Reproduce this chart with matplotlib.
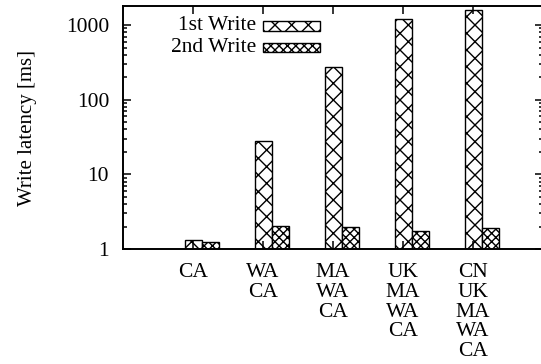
import matplotlib.pyplot as plt
from matplotlib.patches import Rectangle

sites = ["CA", "WA\nCA", "MA\nWA\nCA", "UK\nMA\nWA\nCA", "CN\nUK\nMA\nWA\nCA"]
first_write = [1.32, 28.2, 275, 1200, 1570]
second_write = [1.24, 2.03, 1.95, 1.73, 1.89]

plt.rcParams['font.family'] = ['Liberation Serif', 'DejaVu Serif']
plt.rcParams['hatch.linewidth'] = 1.0

fs = 15.5
fig = plt.figure(figsize=(5.41, 3.64), dpi=100)
fig.set_facecolor('white')
ax = fig.add_axes([0.2274, 0.3159, 0.7763, 0.6676])

w = 0.243
x = list(range(len(sites)))
ax.bar(x, first_write, width=w, facecolor='white', edgecolor='black',
       hatch='xx', linewidth=1.0, log=True)
ax.bar([i + w for i in x], second_write, width=w, facecolor='white', edgecolor='black',
       hatch='xxxx', linewidth=1.0, log=True)

ax.set_yscale('log')
ax.set_ylim(1, 1800)
ax.set_xlim(-1, 5)
ax.set_yticks([1, 10, 100, 1000])
ax.set_yticklabels(['1', '10', '100', '1000'])
ax.set_xticks(x)
ax.set_xticklabels(sites, linespacing=1.06, va='top')

for s in ax.spines.values():
    s.set_linewidth(1.4)
ax.tick_params(which='both', direction='in', top=True, right=True, labelsize=fs, width=1.1)
ax.tick_params(which='major', length=6)
ax.tick_params(which='minor', length=3)
ax.tick_params(axis='y', pad=10)
ax.tick_params(axis='x', pad=10)
ax.set_ylabel('Write latency [ms]', fontsize=15, labelpad=21)

# legend drawn in gnuplot style: text right-aligned, sample box after it
rows = [('1st Write', 'xx', 0.918), ('2nd Write', 'xxxx', 0.829)]
for label, hatch, yy in rows:
    ax.text(0.317, yy, label, transform=ax.transAxes, ha='right', va='center', fontsize=fs)
    ax.add_patch(Rectangle((0.333, yy - 0.02), 0.136, 0.04, transform=ax.transAxes,
                           facecolor='white', edgecolor='black', hatch=hatch,
                           linewidth=1.0, clip_on=False))

fig.savefig('out.png', dpi=100)
